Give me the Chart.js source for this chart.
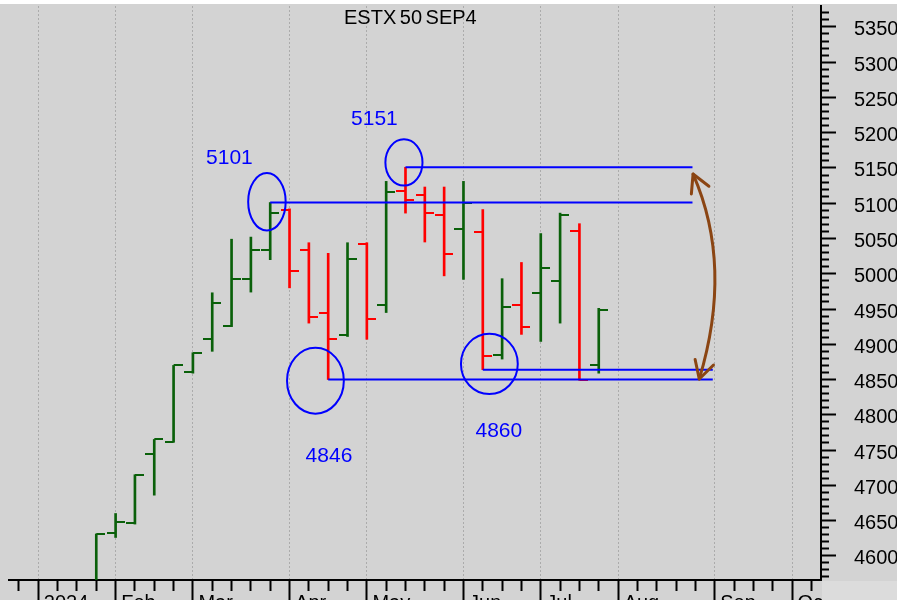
<!DOCTYPE html>
<html><head><meta charset="utf-8">
<script src="https://cdn.jsdelivr.net/npm/chart.js@4.4.1/dist/chart.umd.min.js"></script>
<style>
html,body{margin:0;padding:0;background:#d3d3d3;overflow:hidden;width:897px;height:600px;}
#wrap{position:relative;width:897px;height:600px;overflow:hidden;}
#c{position:absolute;left:0;top:0;}
#topstrip{position:absolute;left:0;top:0;width:897px;height:4px;background:#ffffff;}
#corner{position:absolute;left:822px;top:581px;width:75px;height:19px;background:#dcdcdc;}
</style></head><body>
<div id="wrap"><canvas id="c" width="921" height="620"></canvas><div id="topstrip"></div><div id="corner"></div></div>
<script>
// ---- DATA ----
// week index: 0 = week ending 5 Jan 2024 (weekly bars, ESTX 50 Sep 2024 future)
const weekIdx = [3,4,5,6,7,8,9,10,11,12,13,14,15,16,17,18,19,20,21,22,23,24,25,26,27,28,29];
const opens  = [4545,4633,4646,4745,4762,4860,4908,4926,4993,5033,5091,5033,4944,4913,5042,4956,5118,5112,5084,5064,5059,4885,4956,4973,4990,5060,4870];
const highs  = [4631,4660,4715,4765,4870,4888,4973,5049,5052,5101,5092,5044,5029,5044,5044,5131,5151,5123,5123,5131,5091,4993,5016,5057,5086,5071,4951];
const lows   = [4540,4626,4645,4686,4761,4859,4890,4925,4974,5020,4980,4930,4850,4911,4907,4945,5086,5045,4997,4992,4864,4879,4914,4904,4930,4849,4859];
const closes = [4631,4648,4714,4765,4870,4888,4959,4993,5033,5086,5004,4939,4908,5021,4936,5116,5104,5086,5028,5101,4883,4953,4925,5008,5083,4850,4949];

// x-axis: weekly ticks, month labels at first week of each month
const weekTicks = [];
for (let w = -1; w <= 40; w++) weekTicks.push(w);
const monthTickIdx = [0,4,8,13,17,22,26,30,35,39];
const monthNames = ['2024','Feb','Mar','Apr','May','Jun','Jul','Aug','Sep','Oct'];

// y-axis ticks (every 10, labelled every 50)
const yTickValues = [];
for (let v = 4570; v <= 5370; v += 10) yTickValues.push(v);

// annotations: support / resistance levels
const levelValues = [5151, 5101, 4864, 4850];
const levelFrom   = [19, 12, 23, 15];
const levelTo     = [33.85, 33.85, 34.9, 34.9];

// circled highs/lows (centre in week/price, radii in week/price units)
const ellX  = [11.83, 18.92, 14.34, 23.34];
const ellY  = [5102, 5157.8, 4848.3, 4872.1];
const ellRx = [0.97, 0.96, 1.47, 1.47];
const ellRy = [40.7, 32.8, 46.7, 42.7];

const noteText = ['5101', '5151', '4846', '4860'];
const noteX    = [9.89, 17.39, 15.04, 23.83];
const noteY    = [5166.7, 5221.6, 4743.7, 4779.1];

// double arrow: start, control, end (week, price)
const arrowX = [33.88, 35.97, 34.2];
const arrowY = [5141.4, 5011.5, 4850.7];

const titleText = 'ESTX 50 SEP4';

// ---- STYLE ----
const GREEN = '#0a600a', RED = '#ff0000', BLUE = '#0000ff', BROWN = '#8b4513';
const FONT = '"Liberation Sans", Arial, sans-serif';
const isUp = i => closes[i] >= opens[i];
const barColors = weekIdx.map((w, i) => isUp(i) ? GREEN : RED);

function tickCanvas(color, side) {
  const c = document.createElement('canvas');
  c.width = 18; c.height = 2;
  const g = c.getContext('2d');
  g.fillStyle = color;
  if (side === 'L') g.fillRect(0, 0, 9, 2); else g.fillRect(9, 0, 9, 2);
  return c;
}
const tickImg = {
  L: {up: tickCanvas(GREEN, 'L'), dn: tickCanvas(RED, 'L')},
  R: {up: tickCanvas(GREEN, 'R'), dn: tickCanvas(RED, 'R')}
};

const datasets = [
  {
    type: 'bar',
    data: weekIdx.map((w, i) => ({x: w, y: [lows[i], highs[i]]})),
    backgroundColor: barColors,
    borderWidth: 0,
    barThickness: 2,
    grouped: false,
    order: 3
  },
  {
    type: 'scatter',
    data: weekIdx.map((w, i) => ({x: w, y: opens[i]})),
    pointStyle: c => tickImg.L[isUp(c.dataIndex) ? 'up' : 'dn'],
    pointRadius: 5, pointHoverRadius: 5,
    order: 2
  },
  {
    type: 'scatter',
    data: weekIdx.map((w, i) => ({x: w, y: closes[i]})),
    pointStyle: c => tickImg.R[isUp(c.dataIndex) ? 'up' : 'dn'],
    pointRadius: 5, pointHoverRadius: 5,
    order: 2
  }
];
levelValues.forEach((v, k) => {
  datasets.push({
    type: 'line',
    data: [{x: levelFrom[k], y: v}, {x: levelTo[k], y: v}],
    borderColor: BLUE, borderWidth: 2, pointRadius: 0, fill: false,
    order: 1
  });
});

const annot = {
  id: 'annot',
  afterDatasetsDraw(chart) {
    const {ctx, chartArea} = chart;
    const xs = chart.scales.x, ys = chart.scales.y;
    ctx.save();
    // ellipses
    ctx.strokeStyle = BLUE; ctx.lineWidth = 2;
    for (let i = 0; i < ellX.length; i++) {
      const cx = xs.getPixelForValue(ellX[i]), cy = ys.getPixelForValue(ellY[i]);
      const rx = Math.abs(xs.getPixelForValue(ellX[i] + ellRx[i]) - cx);
      const ry = Math.abs(ys.getPixelForValue(ellY[i] + ellRy[i]) - cy);
      ctx.beginPath(); ctx.ellipse(cx, cy, rx, ry, 0, 0, Math.PI * 2); ctx.stroke();
    }
    // notes
    ctx.fillStyle = BLUE; ctx.font = '21px ' + FONT;
    ctx.textAlign = 'center'; ctx.textBaseline = 'alphabetic';
    for (let i = 0; i < noteText.length; i++) {
      ctx.fillText(noteText[i], xs.getPixelForValue(noteX[i]), ys.getPixelForValue(noteY[i]) + 7.5);
    }
    // arrow
    const P = arrowX.map((ax, i) => ({x: xs.getPixelForValue(ax), y: ys.getPixelForValue(arrowY[i])}));
    ctx.strokeStyle = BROWN; ctx.lineWidth = 3; ctx.lineCap = 'round'; ctx.lineJoin = 'round';
    ctx.beginPath(); ctx.moveTo(P[0].x, P[0].y);
    ctx.quadraticCurveTo(P[1].x, P[1].y, P[2].x, P[2].y); ctx.stroke();
    const head = (tip, from) => {
      const a = Math.atan2(from.y - tip.y, from.x - tip.x);
      ctx.beginPath();
      ctx.moveTo(tip.x + 20 * Math.cos(a - 0.5), tip.y + 20 * Math.sin(a - 0.5));
      ctx.lineTo(tip.x, tip.y);
      ctx.lineTo(tip.x + 20 * Math.cos(a + 0.5), tip.y + 20 * Math.sin(a + 0.5));
      ctx.stroke();
    };
    head(P[0], P[1]); head(P[2], P[1]);
    // title
    ctx.fillStyle = '#000'; ctx.font = '20px ' + FONT;
    ctx.textAlign = 'left'; ctx.textBaseline = 'alphabetic';
    try { ctx.wordSpacing = '-2px'; } catch (e) {}
    ctx.fillText(titleText, chartArea.left + 335, chartArea.top + 17.5);
    ctx.restore();
  }
};

new Chart(document.getElementById('c'), {
  type: 'bar',
  data: {datasets},
  options: {
    responsive: false,
    animation: false,
    devicePixelRatio: 1,
    events: [],
    layout: {padding: {left: 9, top: 4, right: 0, bottom: 0}},
    plugins: {legend: {display: false}, tooltip: {enabled: false}, title: {display: false}},
    scales: {
      x: {
        type: 'linear', min: -1.516, max: 40.5, offset: false,
        afterBuildTicks: s => { s.ticks = weekTicks.map(v => ({value: v})); },
        afterFit: s => { s.height = 40; s.paddingLeft = 0; s.paddingRight = 0; },
        grid: {
          offset: false, drawOnChartArea: true, lineWidth: 1,
          color: c => (c.tick && monthTickIdx.includes(c.tick.value)) ? '#ababab' : 'rgba(0,0,0,0)',
          tickLength: 20, tickColor: '#000', tickWidth: 2,
          tickBorderDash: c => (c.tick && monthTickIdx.includes(c.tick.value)) ? [] : [10, 40]
        },
        border: {display: true, color: '#000', width: 2, dash: [2, 2]},
        ticks: {
          autoSkip: false, maxRotation: 0, minRotation: 0, align: 'start', padding: -9,
          color: '#000', font: {family: FONT, size: 20},
          callback: v => { const k = monthTickIdx.indexOf(v); return k >= 0 ? ' ' + monthNames[k] : ''; }
        }
      },
      y: {
        type: 'linear', position: 'right', min: 4565.7, max: 5379.7,
        afterBuildTicks: s => { s.ticks = yTickValues.map(v => ({value: v})); },
        afterFit: s => { s.width = 100; s.paddingTop = 0; s.paddingBottom = 0; },
        grid: {
          drawOnChartArea: false, tickLength: 15, tickColor: '#000', tickWidth: 2,
          tickBorderDash: c => (c.tick && c.tick.value % 50 === 0) ? [] : [7, 40]
        },
        border: {display: true, color: '#000', width: 2},
        ticks: {
          autoSkip: false, padding: 18, labelOffset: 3, color: '#000', font: {family: FONT, size: 20},
          callback: v => (v % 50 === 0) ? String(v) : ''
        }
      }
    }
  },
  plugins: [annot]
});
</script>
</body></html>
